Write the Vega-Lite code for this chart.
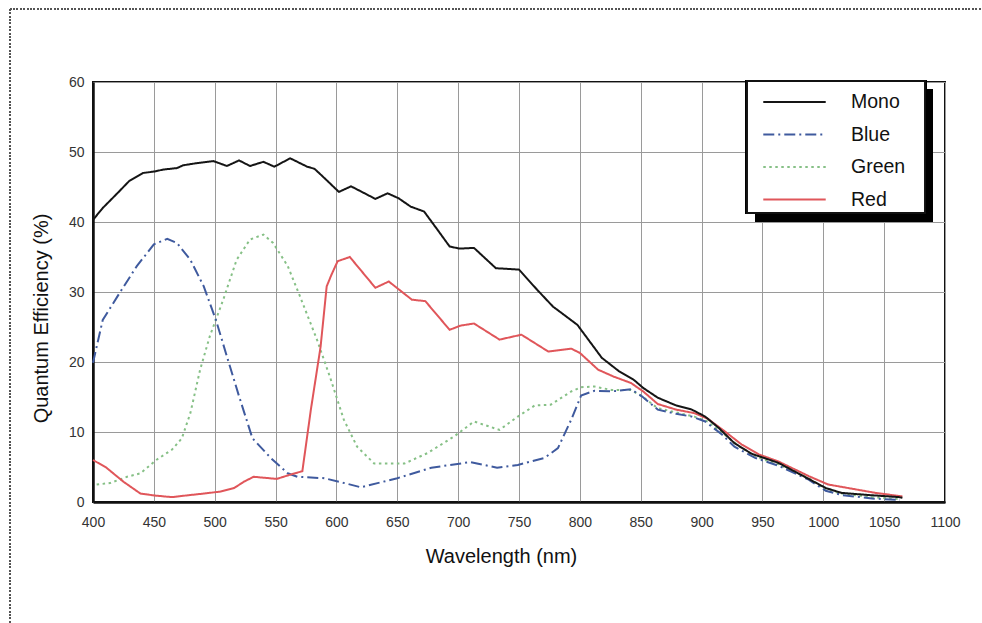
{
  "$schema": "https://vega.github.io/schema/vega-lite/v6.json",
  "autosize": {"type": "none"},
  "width": 852,
  "height": 420,
  "padding": {"left": 93, "top": 82, "right": 37, "bottom": 121},
  "background": "white",
  "config": {
    "font": "Liberation Sans",
    "view": {"stroke": "#111", "strokeWidth": 2},
    "legend": {"strokeWidth": 0},
    "axis": {
      "grid": true,
      "gridColor": "#9a9a9a",
      "gridWidth": 1,
      "domainColor": "#111",
      "domainWidth": 2.5,
      "ticks": false,
      "labelFont": "Liberation Sans",
      "labelFontSize": 14,
      "labelColor": "#333",
      "titleFont": "Liberation Sans",
      "titleFontSize": 20,
      "titleFontWeight": "normal",
      "titleColor": "#111"
    }
  },
  "data": {
    "values": [
      {"s": "Green", "w": 403, "q": 2.5}, {"s": "Green", "w": 414, "q": 2.7}, {"s": "Green", "w": 428, "q": 3.6}, {"s": "Green", "w": 439, "q": 4.1},
      {"s": "Green", "w": 452, "q": 6.0}, {"s": "Green", "w": 465, "q": 7.5}, {"s": "Green", "w": 473, "q": 9.1}, {"s": "Green", "w": 480, "q": 12.7},
      {"s": "Green", "w": 488, "q": 18.9}, {"s": "Green", "w": 496, "q": 23.7}, {"s": "Green", "w": 507, "q": 28.9}, {"s": "Green", "w": 518, "q": 34.6},
      {"s": "Green", "w": 529, "q": 37.5}, {"s": "Green", "w": 540, "q": 38.2}, {"s": "Green", "w": 548, "q": 37.0}, {"s": "Green", "w": 560, "q": 33.7},
      {"s": "Green", "w": 570, "q": 29.4}, {"s": "Green", "w": 584, "q": 23.2}, {"s": "Green", "w": 595, "q": 17.7}, {"s": "Green", "w": 606, "q": 11.8},
      {"s": "Green", "w": 617, "q": 7.9}, {"s": "Green", "w": 631, "q": 5.5}, {"s": "Green", "w": 656, "q": 5.5}, {"s": "Green", "w": 675, "q": 7.0},
      {"s": "Green", "w": 697, "q": 9.4}, {"s": "Green", "w": 713, "q": 11.5}, {"s": "Green", "w": 734, "q": 10.3}, {"s": "Green", "w": 749, "q": 12.2},
      {"s": "Green", "w": 763, "q": 13.8}, {"s": "Green", "w": 776, "q": 13.9}, {"s": "Green", "w": 785, "q": 14.9}, {"s": "Green", "w": 793, "q": 15.8},
      {"s": "Green", "w": 801, "q": 16.4}, {"s": "Green", "w": 812, "q": 16.5}, {"s": "Green", "w": 826, "q": 16.0}, {"s": "Green", "w": 842, "q": 16.0},
      {"s": "Green", "w": 851, "q": 15.1}, {"s": "Green", "w": 864, "q": 13.4}, {"s": "Green", "w": 879, "q": 12.8}, {"s": "Green", "w": 894, "q": 12.2},
      {"s": "Green", "w": 905, "q": 11.5}, {"s": "Green", "w": 919, "q": 9.6}, {"s": "Green", "w": 933, "q": 7.7}, {"s": "Green", "w": 947, "q": 6.3},
      {"s": "Green", "w": 963, "q": 5.4}, {"s": "Green", "w": 988, "q": 3.4}, {"s": "Green", "w": 1002, "q": 1.8}, {"s": "Green", "w": 1015, "q": 1.2},
      {"s": "Green", "w": 1040, "q": 0.7}, {"s": "Green", "w": 1063, "q": 0.4},

      {"s": "Blue", "w": 400, "q": 19.9}, {"s": "Blue", "w": 408, "q": 26.0}, {"s": "Blue", "w": 422, "q": 29.9}, {"s": "Blue", "w": 436, "q": 33.7},
      {"s": "Blue", "w": 450, "q": 36.8}, {"s": "Blue", "w": 461, "q": 37.6}, {"s": "Blue", "w": 469, "q": 37.0}, {"s": "Blue", "w": 480, "q": 34.6},
      {"s": "Blue", "w": 491, "q": 30.8}, {"s": "Blue", "w": 501, "q": 26.0}, {"s": "Blue", "w": 510, "q": 20.8}, {"s": "Blue", "w": 520, "q": 15.1},
      {"s": "Blue", "w": 531, "q": 9.1}, {"s": "Blue", "w": 546, "q": 6.3}, {"s": "Blue", "w": 560, "q": 4.1}, {"s": "Blue", "w": 568, "q": 3.6},
      {"s": "Blue", "w": 590, "q": 3.4}, {"s": "Blue", "w": 609, "q": 2.6}, {"s": "Blue", "w": 620, "q": 2.1}, {"s": "Blue", "w": 650, "q": 3.4},
      {"s": "Blue", "w": 678, "q": 4.9}, {"s": "Blue", "w": 710, "q": 5.7}, {"s": "Blue", "w": 732, "q": 4.9}, {"s": "Blue", "w": 749, "q": 5.3},
      {"s": "Blue", "w": 771, "q": 6.3}, {"s": "Blue", "w": 782, "q": 7.7}, {"s": "Blue", "w": 793, "q": 11.8}, {"s": "Blue", "w": 801, "q": 15.2},
      {"s": "Blue", "w": 812, "q": 15.9}, {"s": "Blue", "w": 826, "q": 15.8}, {"s": "Blue", "w": 842, "q": 16.1}, {"s": "Blue", "w": 851, "q": 15.1},
      {"s": "Blue", "w": 864, "q": 13.2}, {"s": "Blue", "w": 879, "q": 12.6}, {"s": "Blue", "w": 892, "q": 12.2}, {"s": "Blue", "w": 903, "q": 11.5},
      {"s": "Blue", "w": 917, "q": 9.6}, {"s": "Blue", "w": 927, "q": 7.9}, {"s": "Blue", "w": 944, "q": 6.3}, {"s": "Blue", "w": 963, "q": 5.2},
      {"s": "Blue", "w": 988, "q": 3.2}, {"s": "Blue", "w": 1002, "q": 1.6}, {"s": "Blue", "w": 1015, "q": 1.0}, {"s": "Blue", "w": 1040, "q": 0.5},
      {"s": "Blue", "w": 1063, "q": 0.3},

      {"s": "Red", "w": 400, "q": 6.0}, {"s": "Red", "w": 411, "q": 4.9}, {"s": "Red", "w": 425, "q": 2.9}, {"s": "Red", "w": 439, "q": 1.2},
      {"s": "Red", "w": 452, "q": 0.9}, {"s": "Red", "w": 465, "q": 0.7}, {"s": "Red", "w": 480, "q": 1.0}, {"s": "Red", "w": 491, "q": 1.2},
      {"s": "Red", "w": 505, "q": 1.5}, {"s": "Red", "w": 516, "q": 2.0}, {"s": "Red", "w": 524, "q": 2.9}, {"s": "Red", "w": 532, "q": 3.6},
      {"s": "Red", "w": 551, "q": 3.3}, {"s": "Red", "w": 562, "q": 3.9}, {"s": "Red", "w": 572, "q": 4.4}, {"s": "Red", "w": 579, "q": 13.2},
      {"s": "Red", "w": 587, "q": 22.2}, {"s": "Red", "w": 592, "q": 30.8}, {"s": "Red", "w": 596, "q": 32.5}, {"s": "Red", "w": 601, "q": 34.4},
      {"s": "Red", "w": 611, "q": 35.0}, {"s": "Red", "w": 632, "q": 30.6}, {"s": "Red", "w": 643, "q": 31.5}, {"s": "Red", "w": 662, "q": 28.9},
      {"s": "Red", "w": 673, "q": 28.7}, {"s": "Red", "w": 693, "q": 24.6}, {"s": "Red", "w": 702, "q": 25.2}, {"s": "Red", "w": 713, "q": 25.5},
      {"s": "Red", "w": 734, "q": 23.2}, {"s": "Red", "w": 752, "q": 23.9}, {"s": "Red", "w": 774, "q": 21.5}, {"s": "Red", "w": 793, "q": 21.9},
      {"s": "Red", "w": 800, "q": 21.3}, {"s": "Red", "w": 815, "q": 18.9}, {"s": "Red", "w": 828, "q": 17.9}, {"s": "Red", "w": 842, "q": 17.0},
      {"s": "Red", "w": 852, "q": 15.8}, {"s": "Red", "w": 864, "q": 14.0}, {"s": "Red", "w": 879, "q": 13.2}, {"s": "Red", "w": 894, "q": 12.7},
      {"s": "Red", "w": 905, "q": 11.9}, {"s": "Red", "w": 919, "q": 10.1}, {"s": "Red", "w": 933, "q": 8.2}, {"s": "Red", "w": 947, "q": 6.8},
      {"s": "Red", "w": 963, "q": 5.8}, {"s": "Red", "w": 988, "q": 3.7}, {"s": "Red", "w": 1004, "q": 2.5}, {"s": "Red", "w": 1043, "q": 1.3},
      {"s": "Red", "w": 1065, "q": 0.8},

      {"s": "Mono", "w": 400, "q": 40.3}, {"s": "Mono", "w": 408, "q": 42.0}, {"s": "Mono", "w": 420, "q": 44.1}, {"s": "Mono", "w": 430, "q": 45.9},
      {"s": "Mono", "w": 441, "q": 47.0}, {"s": "Mono", "w": 450, "q": 47.2}, {"s": "Mono", "w": 458, "q": 47.5}, {"s": "Mono", "w": 469, "q": 47.7},
      {"s": "Mono", "w": 474, "q": 48.1}, {"s": "Mono", "w": 485, "q": 48.4}, {"s": "Mono", "w": 499, "q": 48.7}, {"s": "Mono", "w": 510, "q": 48.0},
      {"s": "Mono", "w": 520, "q": 48.8}, {"s": "Mono", "w": 529, "q": 48.0}, {"s": "Mono", "w": 540, "q": 48.6}, {"s": "Mono", "w": 549, "q": 47.9},
      {"s": "Mono", "w": 562, "q": 49.1}, {"s": "Mono", "w": 576, "q": 47.9}, {"s": "Mono", "w": 582, "q": 47.6}, {"s": "Mono", "w": 590, "q": 46.3},
      {"s": "Mono", "w": 602, "q": 44.3}, {"s": "Mono", "w": 612, "q": 45.1}, {"s": "Mono", "w": 632, "q": 43.3}, {"s": "Mono", "w": 642, "q": 44.1},
      {"s": "Mono", "w": 651, "q": 43.4}, {"s": "Mono", "w": 661, "q": 42.2}, {"s": "Mono", "w": 672, "q": 41.5}, {"s": "Mono", "w": 683, "q": 38.9},
      {"s": "Mono", "w": 693, "q": 36.5}, {"s": "Mono", "w": 701, "q": 36.2}, {"s": "Mono", "w": 713, "q": 36.3}, {"s": "Mono", "w": 731, "q": 33.4},
      {"s": "Mono", "w": 750, "q": 33.2}, {"s": "Mono", "w": 765, "q": 30.3}, {"s": "Mono", "w": 778, "q": 27.9}, {"s": "Mono", "w": 785, "q": 27.0},
      {"s": "Mono", "w": 798, "q": 25.3}, {"s": "Mono", "w": 818, "q": 20.6}, {"s": "Mono", "w": 832, "q": 18.7}, {"s": "Mono", "w": 844, "q": 17.5},
      {"s": "Mono", "w": 852, "q": 16.3}, {"s": "Mono", "w": 864, "q": 14.9}, {"s": "Mono", "w": 879, "q": 13.8}, {"s": "Mono", "w": 892, "q": 13.2},
      {"s": "Mono", "w": 903, "q": 12.2}, {"s": "Mono", "w": 914, "q": 10.6}, {"s": "Mono", "w": 927, "q": 8.4}, {"s": "Mono", "w": 941, "q": 6.9},
      {"s": "Mono", "w": 963, "q": 5.6}, {"s": "Mono", "w": 988, "q": 3.3}, {"s": "Mono", "w": 1002, "q": 2.0}, {"s": "Mono", "w": 1015, "q": 1.3},
      {"s": "Mono", "w": 1037, "q": 1.0}, {"s": "Mono", "w": 1062, "q": 0.7}, {"s": "Mono", "w": 1065, "q": 0.6}
    ]
  },
  "layer": [
    {
      "mark": {"type": "rule", "color": "#555", "strokeWidth": 1.2, "strokeDash": [1.2, 2.2], "clip": false},
      "encoding": {
        "x": {"datum": 331.8, "type": "quantitative"},
        "x2": {"datum": 1131},
        "y": {"datum": 70.4, "type": "quantitative"}
      }
    },
    {
      "mark": {"type": "rule", "color": "#555", "strokeWidth": 1.2, "strokeDash": [1.2, 2.2], "clip": false},
      "encoding": {
        "x": {"datum": 331.8, "type": "quantitative"},
        "y": {"datum": 70.4, "type": "quantitative"},
        "y2": {"datum": -17.4}
      }
    },
    {
      "mark": {"type": "rect", "color": "#000", "clip": false},
      "encoding": {
        "x": {"datum": 944, "type": "quantitative"},
        "x2": {"datum": 1090},
        "y": {"datum": 59.0, "type": "quantitative"},
        "y2": {"datum": 40.1}
      }
    },
    {
      "mark": {"type": "rect", "fill": "white", "stroke": "#111", "strokeWidth": 2, "clip": false},
      "encoding": {
        "x": {"datum": 937.3, "type": "quantitative"},
        "x2": {"datum": 1083.6},
        "y": {"datum": 60.14, "type": "quantitative"},
        "y2": {"datum": 41.3}
      }
    },
    {
      "mark": {"type": "line", "strokeWidth": 2},
      "encoding": {
        "x": {
          "field": "w", "type": "quantitative",
          "scale": {"domain": [400, 1100], "nice": false, "zero": false},
          "axis": {
            "values": [400, 450, 500, 550, 600, 650, 700, 750, 800, 850, 900, 950, 1000, 1050, 1100],
            "format": "d",
            "labelPadding": 13,
            "labelFlush": false,
            "title": "Wavelength (nm)",
            "titleX": 408,
            "titlePadding": 17
          }
        },
        "y": {
          "field": "q", "type": "quantitative",
          "scale": {"domain": [0, 60], "nice": false},
          "axis": {
            "values": [0, 10, 20, 30, 40, 50, 60],
            "labelPadding": 9,
            "labelFlush": false,
            "title": "Quantum Efficiency (%)",
            "titleY": 236,
            "titlePadding": 17
          }
        },
        "color": {
          "field": "s", "type": "nominal",
          "scale": {"domain": ["Mono", "Blue", "Green", "Red"], "range": ["#151515", "#3f5a9e", "#86c086", "#e0565a"]},
          "legend": {
            "title": null,
            "orient": "none",
            "legendX": 669,
            "legendY": 10,
            "symbolType": "stroke",
            "symbolSize": 3900,
            "symbolStrokeWidth": 2,
            "clipHeight": 20,
            "labelFontSize": 19.5,
            "labelColor": "#111",
            "labelOffset": 24,
            "fillColor": "transparent",
            "strokeColor": "transparent",
            "padding": 0,
            "rowPadding": 12.5
          }
        },
        "strokeDash": {
          "field": "s", "type": "nominal",
          "scale": {"domain": ["Mono", "Blue", "Green", "Red"], "range": [[1, 0], [11, 4, 2, 4], [2.5, 3.5], [1, 0]]},
          "legend": null
        },
        "order": {"field": "w", "type": "quantitative"}
      }
    }
  ]
}
